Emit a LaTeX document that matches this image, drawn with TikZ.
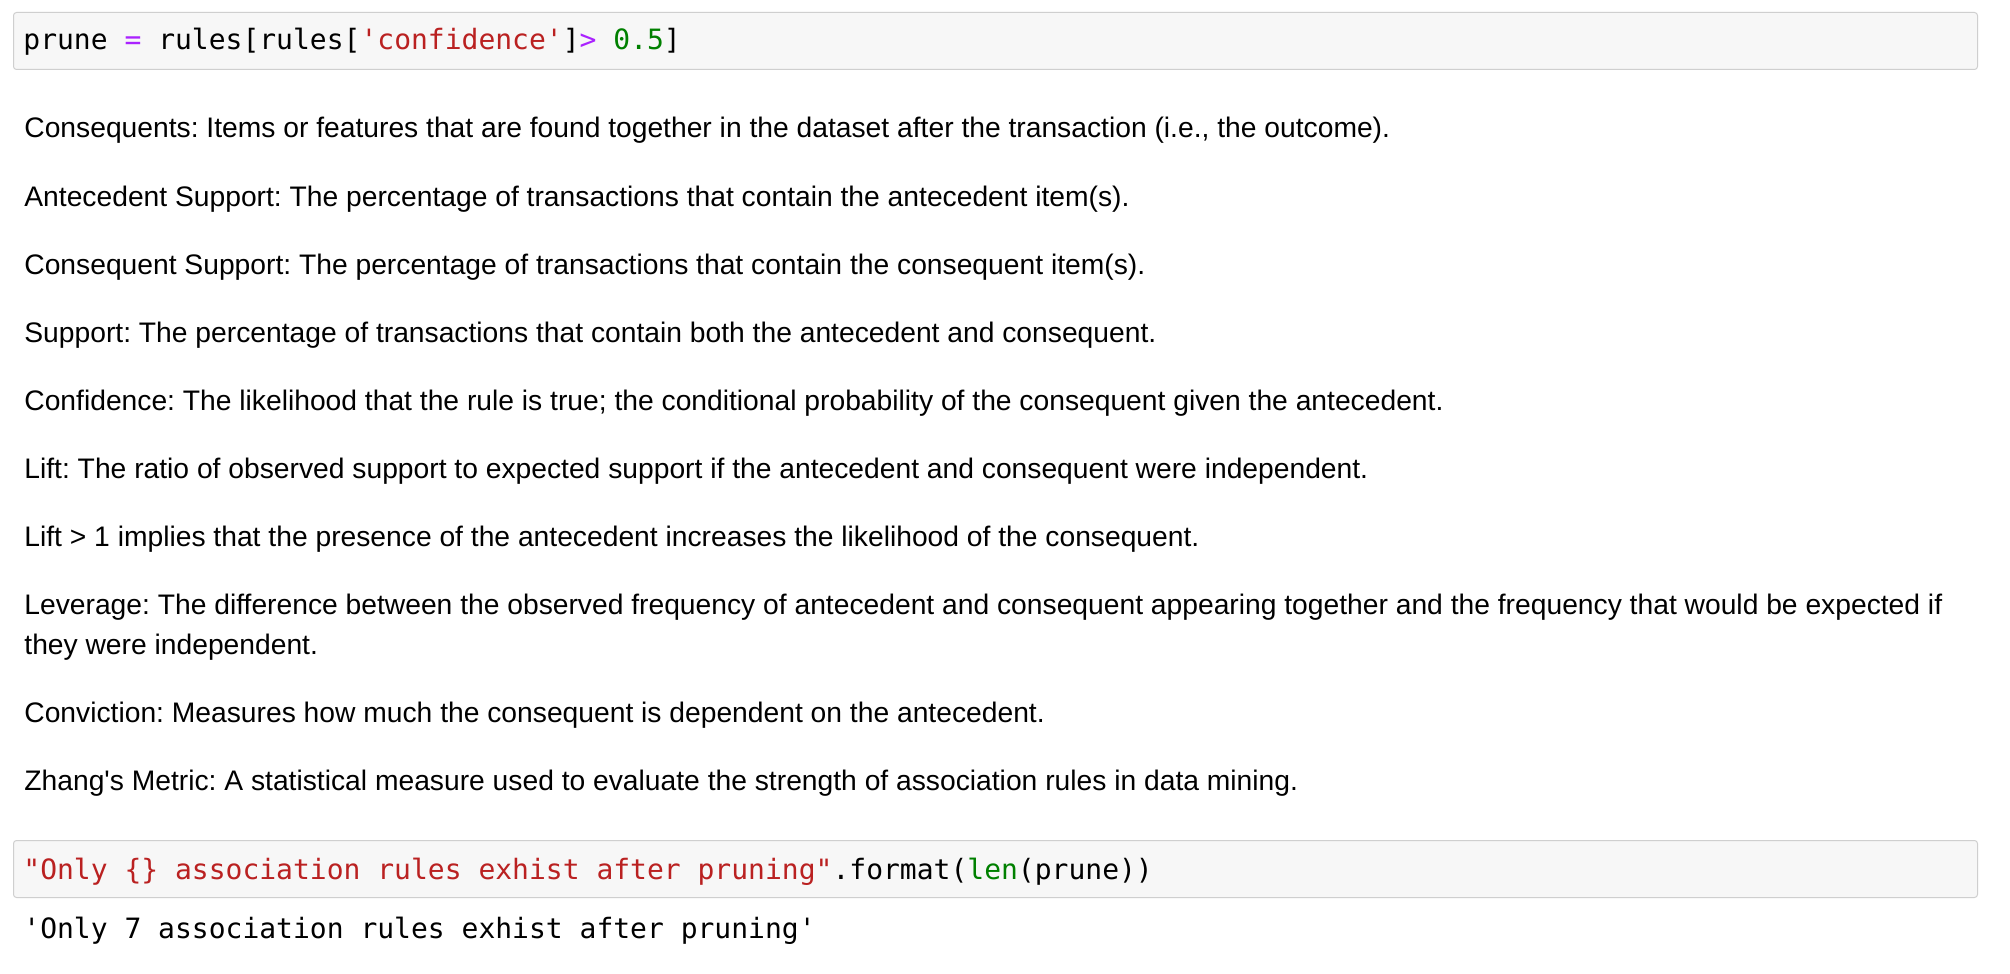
\documentclass[tikz,border=0pt]{standalone}
\usepackage{fontspec}
\setmainfont{Liberation Sans}
\setmonofont{DejaVu Sans Mono}
\frenchspacing
\definecolor{cellbg}{HTML}{F7F7F7}
\definecolor{cellbd}{HTML}{CFCFCF}
\definecolor{pyop}{HTML}{AA22FF}
\definecolor{pystr}{HTML}{BA2121}
\definecolor{pynum}{HTML}{008000}
\begin{document}
\begin{tikzpicture}[x=0.5pt,y=-0.5pt,
  cell/.style={draw=cellbd,fill=cellbg,line width=0.5pt,rounded corners=1.5pt},
  code/.style={anchor=base west,inner sep=0pt,font=\fontsize{14pt}{17pt}\ttfamily},
  para/.style={anchor=base west,inner sep=0pt,font=\fontsize{14.12pt}{20pt}\selectfont}]
\fill[white] (0,0) rectangle (2010,974);
\useasboundingbox (0,0) rectangle (2010,974);
\draw[cell] (13.5,12.5) rectangle (1977.5,69.5);
\node[code] (c1) at (23,50) {prune \textcolor{pyop}{=} rules[rules[\textcolor{pystr}{'confidence'}]\textcolor{pyop}{>} \textcolor{pynum}{0.5}]};
\node[para] (p1) at (24,138) {Consequents: Items or features that are found together in the dataset after the transaction (i.e., the outcome).};
\node[para] (p2) at (24,206) {Antecedent Support: The percentage of transactions that contain the antecedent item(s).};
\node[para] (p3) at (24,274) {Consequent Support: The percentage of transactions that contain the consequent item(s).};
\node[para] (p4) at (24,342) {Support: The percentage of transactions that contain both the antecedent and consequent.};
\node[para] (p5) at (24,410) {Confidence: The likelihood that the rule is true; the conditional probability of the consequent given the antecedent.};
\node[para] (p6) at (24,478) {Lift: The ratio of observed support to expected support if the antecedent and consequent were independent.};
\node[para] (p7) at (24,546) {Lift > 1 implies that the presence of the antecedent increases the likelihood of the consequent.};
\node[para] (p8) at (24,614) {Leverage: The difference between the observed frequency of antecedent and consequent appearing together and the frequency that would be expected if};
\node[para] (p8b) at (24,654) {they were independent.};
\node[para] (p9) at (24,722) {Conviction: Measures how much the consequent is dependent on the antecedent.};
\node[para] (p10) at (24,790) {Zhang\textquotesingle s Metric: A statistical measure used to evaluate the strength of association rules in data mining.};
\draw[cell] (13.5,840.5) rectangle (1977.5,897.5);
\node[code] (c2) at (23,879) {\textcolor{pystr}{"Only \{\} association rules exhist after pruning"}.format(\textcolor{pynum}{len}(prune))};
\node[code] (out) at (23,938) {'Only 7 association rules exhist after pruning'};
\end{tikzpicture}
\end{document}
